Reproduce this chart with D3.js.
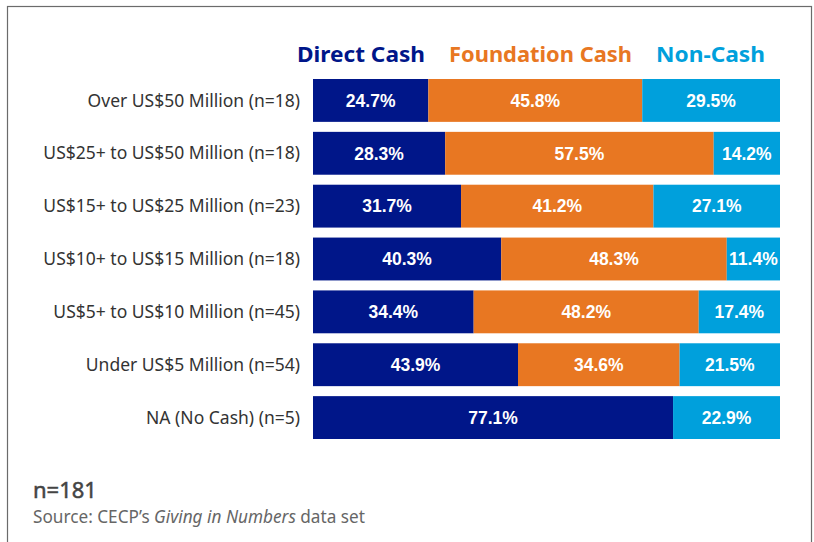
<!DOCTYPE html>
<html>
<head>
<meta charset="utf-8">
<script src="https://cdn.jsdelivr.net/npm/d3@7"></script>
<style>
  body { margin: 0; background: #fff; }
  svg { display: block; }
</style>
</head>
<body>
<div id="chart"></div>
<script>
const categories = [
    'Over US$50 Million (n=18)',
    'US$25+ to US$50 Million (n=18)',
    'US$15+ to US$25 Million (n=23)',
    'US$10+ to US$15 Million (n=18)',
    'US$5+ to US$10 Million (n=45)',
    'Under US$5 Million (n=54)',
    'NA (No Cash) (n=5)'
];
const seriesNames = ['Direct Cash', 'Foundation Cash', 'Non-Cash'];
const directCash = [24.7, 28.3, 31.7, 40.3, 34.4, 43.9, 77.1];
const foundationCash = [45.8, 57.5, 41.2, 48.3, 48.2, 34.6, 0];
const nonCash = [29.5, 14.2, 27.1, 11.4, 17.4, 21.5, 22.9];

const colors = ['#001689', '#e87722', '#00a0dc'];

const width = 814, height = 542;
const svg = d3.select('#chart').append('svg')
    .attr('width', width)
    .attr('height', height);

// frame
svg.append('rect')
    .attr('x', 7.5).attr('y', 6.5)
    .attr('width', 804).attr('height', 560)
    .attr('fill', 'none')
    .attr('stroke', '#6b6b6b')
    .attr('stroke-width', 1.2);

const rows = categories.map((c, i) => ({
    label: c,
    values: [directCash[i], foundationCash[i], nonCash[i]]
}));

const x = d3.scaleLinear().domain([0, 100]).range([313, 780]);
const y = d3.scaleBand().domain(categories).range([79, 439]).paddingInner(0.189).paddingOuter(0);

const rowG = svg.selectAll('.row')
    .data(rows)
    .enter().append('g')
    .attr('class', 'row')
    .attr('transform', d => 'translate(0,' + y(d.label) + ')');

rowG.append('text')
    .attr('x', 300)
    .attr('y', y.bandwidth() / 2)
    .attr('dy', '0.35em')
    .attr('text-anchor', 'end')
    .style('font-family', "'Noto Sans', sans-serif")
    .style('font-size', '17.5px')
    .style('fill', '#333')
    .text(d => d.label);

rowG.each(function (d) {
    const g = d3.select(this);
    let acc = 0;
    d.values.forEach((v, k) => {
        if (!v) return;
        const x0 = x(acc), x1 = x(acc + v);
        acc += v;
        g.append('rect')
            .attr('x', x0)
            .attr('y', 0)
            .attr('width', x1 - x0)
            .attr('height', y.bandwidth())
            .attr('fill', colors[k]);
        g.append('text')
            .attr('x', (x0 + x1) / 2)
            .attr('y', y.bandwidth() / 2)
            .attr('dy', '0.36em')
            .attr('text-anchor', 'middle')
            .style('font-family', "'Liberation Sans', Arial, sans-serif")
            .style('font-weight', 'bold')
            .style('font-size', '17.5px')
            .style('fill', '#fff')
            .text(v.toFixed(1) + '%');
    });
});

// legend
const legendX = [297, 449, 656];
const legendW = [128, 183, 109];
svg.selectAll('.legend')
    .data(seriesNames)
    .enter().append('text')
    .attr('class', 'legend')
    .attr('x', (d, i) => legendX[i])
    .attr('y', 62)
    .attr('textLength', (d, i) => legendW[i])
    .attr('lengthAdjust', 'spacingAndGlyphs')
    .style('font-family', "'Noto Sans', sans-serif")
    .style('font-weight', 'bold')
    .style('font-size', '21px')
    .style('fill', (d, i) => colors[i])
    .text(d => d);

svg.append('text')
    .attr('x', 33)
    .attr('y', 498)
    .style('font-family', "'Noto Sans', sans-serif")
    .style('font-size', '22px')
    .style('fill', '#444')
    .style('stroke', '#444')
    .style('stroke-width', 0.5)
    .text('n=181');

const src = svg.append('text')
    .attr('x', 33)
    .attr('y', 523)
    .style('font-family', "'Noto Sans', sans-serif")
    .style('font-size', '17.2px')
    .style('fill', '#666');
src.append('tspan').text('Source: CECP\u2019s ');
src.append('tspan').style('font-style', 'italic').text('Giving in Numbers');
src.append('tspan').text(' data set');
</script>
</body>
</html>
